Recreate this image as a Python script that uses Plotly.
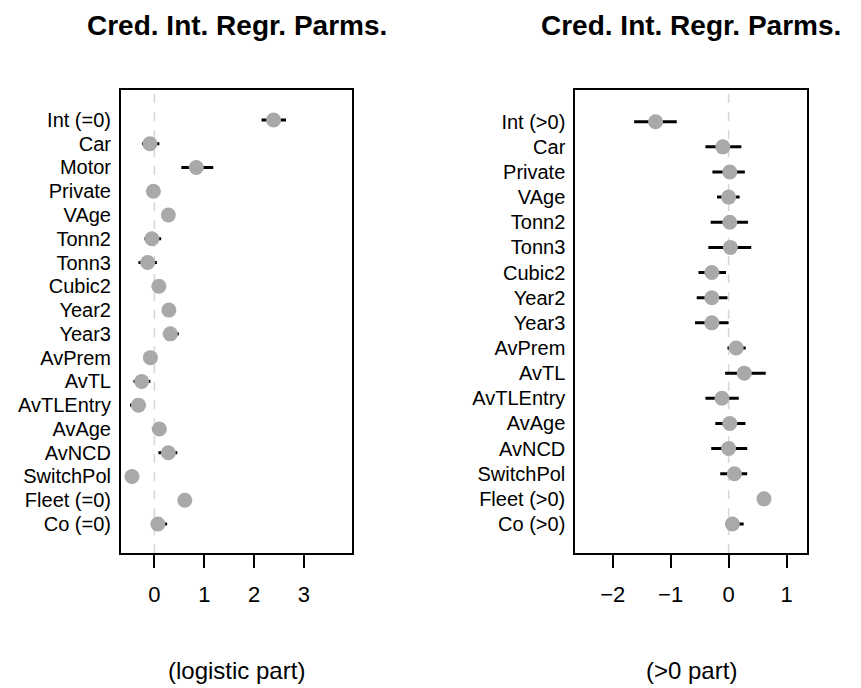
import plotly.graph_objects as go

# ---- data ----
labels_left = ["Int (=0)", "Car", "Motor", "Private", "VAge", "Tonn2", "Tonn3", "Cubic2",
               "Year2", "Year3", "AvPrem", "AvTL", "AvTLEntry", "AvAge", "AvNCD",
               "SwitchPol", "Fleet (=0)", "Co (=0)"]
mean_left = [2.39, -0.09, 0.84, -0.02, 0.28, -0.05, -0.135, 0.09, 0.29, 0.32, -0.08,
             -0.255, -0.32, 0.10, 0.28, -0.45, 0.61, 0.07]
lo_left = [2.15, -0.25, 0.54, -0.12, 0.20, -0.20, -0.32, -0.05, 0.20, 0.17, -0.16,
           -0.42, -0.49, -0.05, 0.08, -0.52, 0.53, -0.07]
hi_left = [2.64, 0.10, 1.18, 0.08, 0.36, 0.135, 0.05, 0.20, 0.38, 0.49, 0.00,
           -0.08, -0.18, 0.235, 0.46, -0.38, 0.69, 0.255]

labels_right = ["Int (>0)", "Car", "Private", "VAge", "Tonn2", "Tonn3", "Cubic2", "Year2",
                "Year3", "AvPrem", "AvTL", "AvTLEntry", "AvAge", "AvNCD", "SwitchPol",
                "Fleet (>0)", "Co (>0)"]
mean_right = [-1.26, -0.10, 0.02, 0.0, 0.02, 0.03, -0.29, -0.29, -0.29, 0.13, 0.27,
              -0.115, 0.02, 0.0, 0.10, 0.61, 0.065]
lo_right = [-1.63, -0.40, -0.28, -0.20, -0.31, -0.35, -0.52, -0.55, -0.58, -0.02, -0.06,
            -0.40, -0.23, -0.30, -0.145, 0.52, -0.05]
hi_right = [-0.895, 0.22, 0.28, 0.19, 0.335, 0.39, -0.045, -0.02, 0.0, 0.295, 0.64,
            0.175, 0.29, 0.32, 0.32, 0.70, 0.26]

xticks_left = [0, 1, 2, 3]
xticks_right = [-2, -1, 0, 1]
titles = ["Cred. Int. Regr. Parms.", "Cred. Int. Regr. Parms."]
subtitles = ["(logistic part)", "(>0 part)"]

# ---- figure ----
OFF = 8  # browser body margin
W, H = 861 - OFF, 688 - OFF
FONT = "Liberation Sans, Arial, Helvetica, sans-serif"
POINT = "#A9A9A9"


def px_x(p):
    return (p - OFF) / W


def px_y(p):
    return 1 - (p - OFF) / H


fig = go.Figure()


def add_panel(labels, mean, lo, hi, xa, ya):
    n = len(labels)
    ypos = list(range(n, 0, -1))
    fig.add_trace(go.Scatter(
        x=mean, y=ypos, mode="markers", xaxis=xa, yaxis=ya,
        marker=dict(color=POINT, size=15, line=dict(width=0)),
        error_x=dict(type="data", symmetric=False,
                     array=[h - m for h, m in zip(hi, mean)],
                     arrayminus=[m - l for m, l in zip(mean, lo)],
                     width=0, thickness=3, color="black"),
        showlegend=False, hoverinfo="skip"))
    return ypos


yl = add_panel(labels_left, mean_left, lo_left, hi_left, "x", "y")
yr = add_panel(labels_right, mean_right, lo_right, hi_right, "x2", "y2")

ydom = [px_y(553), px_y(90)]
dom_l = [px_x(121), px_x(352.3)]
dom_r = [px_x(575.3), px_x(806.7)]

axis_common = dict(showline=True, linecolor="black", linewidth=2, mirror=True,
                   showgrid=False, zeroline=False)

fig.update_layout(
    width=W, height=H, margin=dict(l=0, r=0, t=0, b=0),
    paper_bgcolor="white", plot_bgcolor="white",
    font=dict(family=FONT, color="black"),
    xaxis=dict(domain=dom_l, range=[-0.67, 3.97], tickvals=xticks_left,
               ticktext=[str(v) for v in xticks_left],
               ticks="outside", ticklen=13, tickwidth=2, tickcolor="black",
               tickfont=dict(size=22), ticklabelstandoff=8, anchor="y", **axis_common),
    yaxis=dict(domain=ydom, range=[-0.22, 19.26], tickvals=yl, ticktext=labels_left,
               ticks="", tickfont=dict(size=20), ticklabelstandoff=4, anchor="x",
               **axis_common),
    xaxis2=dict(domain=dom_r, range=[-2.645, 1.347], tickvals=xticks_right,
                ticktext=["\u22122", "\u22121", "0", "1"],
                ticks="outside", ticklen=13, tickwidth=2, tickcolor="black",
                tickfont=dict(size=22), ticklabelstandoff=8, anchor="y2", **axis_common),
    yaxis2=dict(domain=ydom, range=[-0.153, 18.26], tickvals=yr, ticktext=labels_right,
                ticks="", tickfont=dict(size=20), ticklabelstandoff=4, anchor="x2",
                **axis_common),
)

# dashed zero lines
for xr, yd in [("x", "y domain"), ("x2", "y2 domain")]:
    fig.add_shape(type="line", xref=xr, yref=yd, x0=0, x1=0, y0=0, y1=1,
                  line=dict(color="#D6D6D6", width=1.5, dash="dash"), layer="below")

# titles and subtitles
for dom, t, s in [(dom_l, titles[0], subtitles[0]), (dom_r, titles[1], subtitles[1])]:
    cx = (dom[0] + dom[1]) / 2
    fig.add_annotation(x=cx, y=px_y(25), xref="paper", yref="paper", text="<b>" + t + "</b>",
                       showarrow=False, xanchor="center", yanchor="middle",
                       font=dict(size=28, family=FONT, color="black"))
    fig.add_annotation(x=cx, y=px_y(670), xref="paper", yref="paper", text=s,
                       showarrow=False, xanchor="center", yanchor="middle",
                       font=dict(size=24, family=FONT, color="black"))

fig.write_html("out.html")
